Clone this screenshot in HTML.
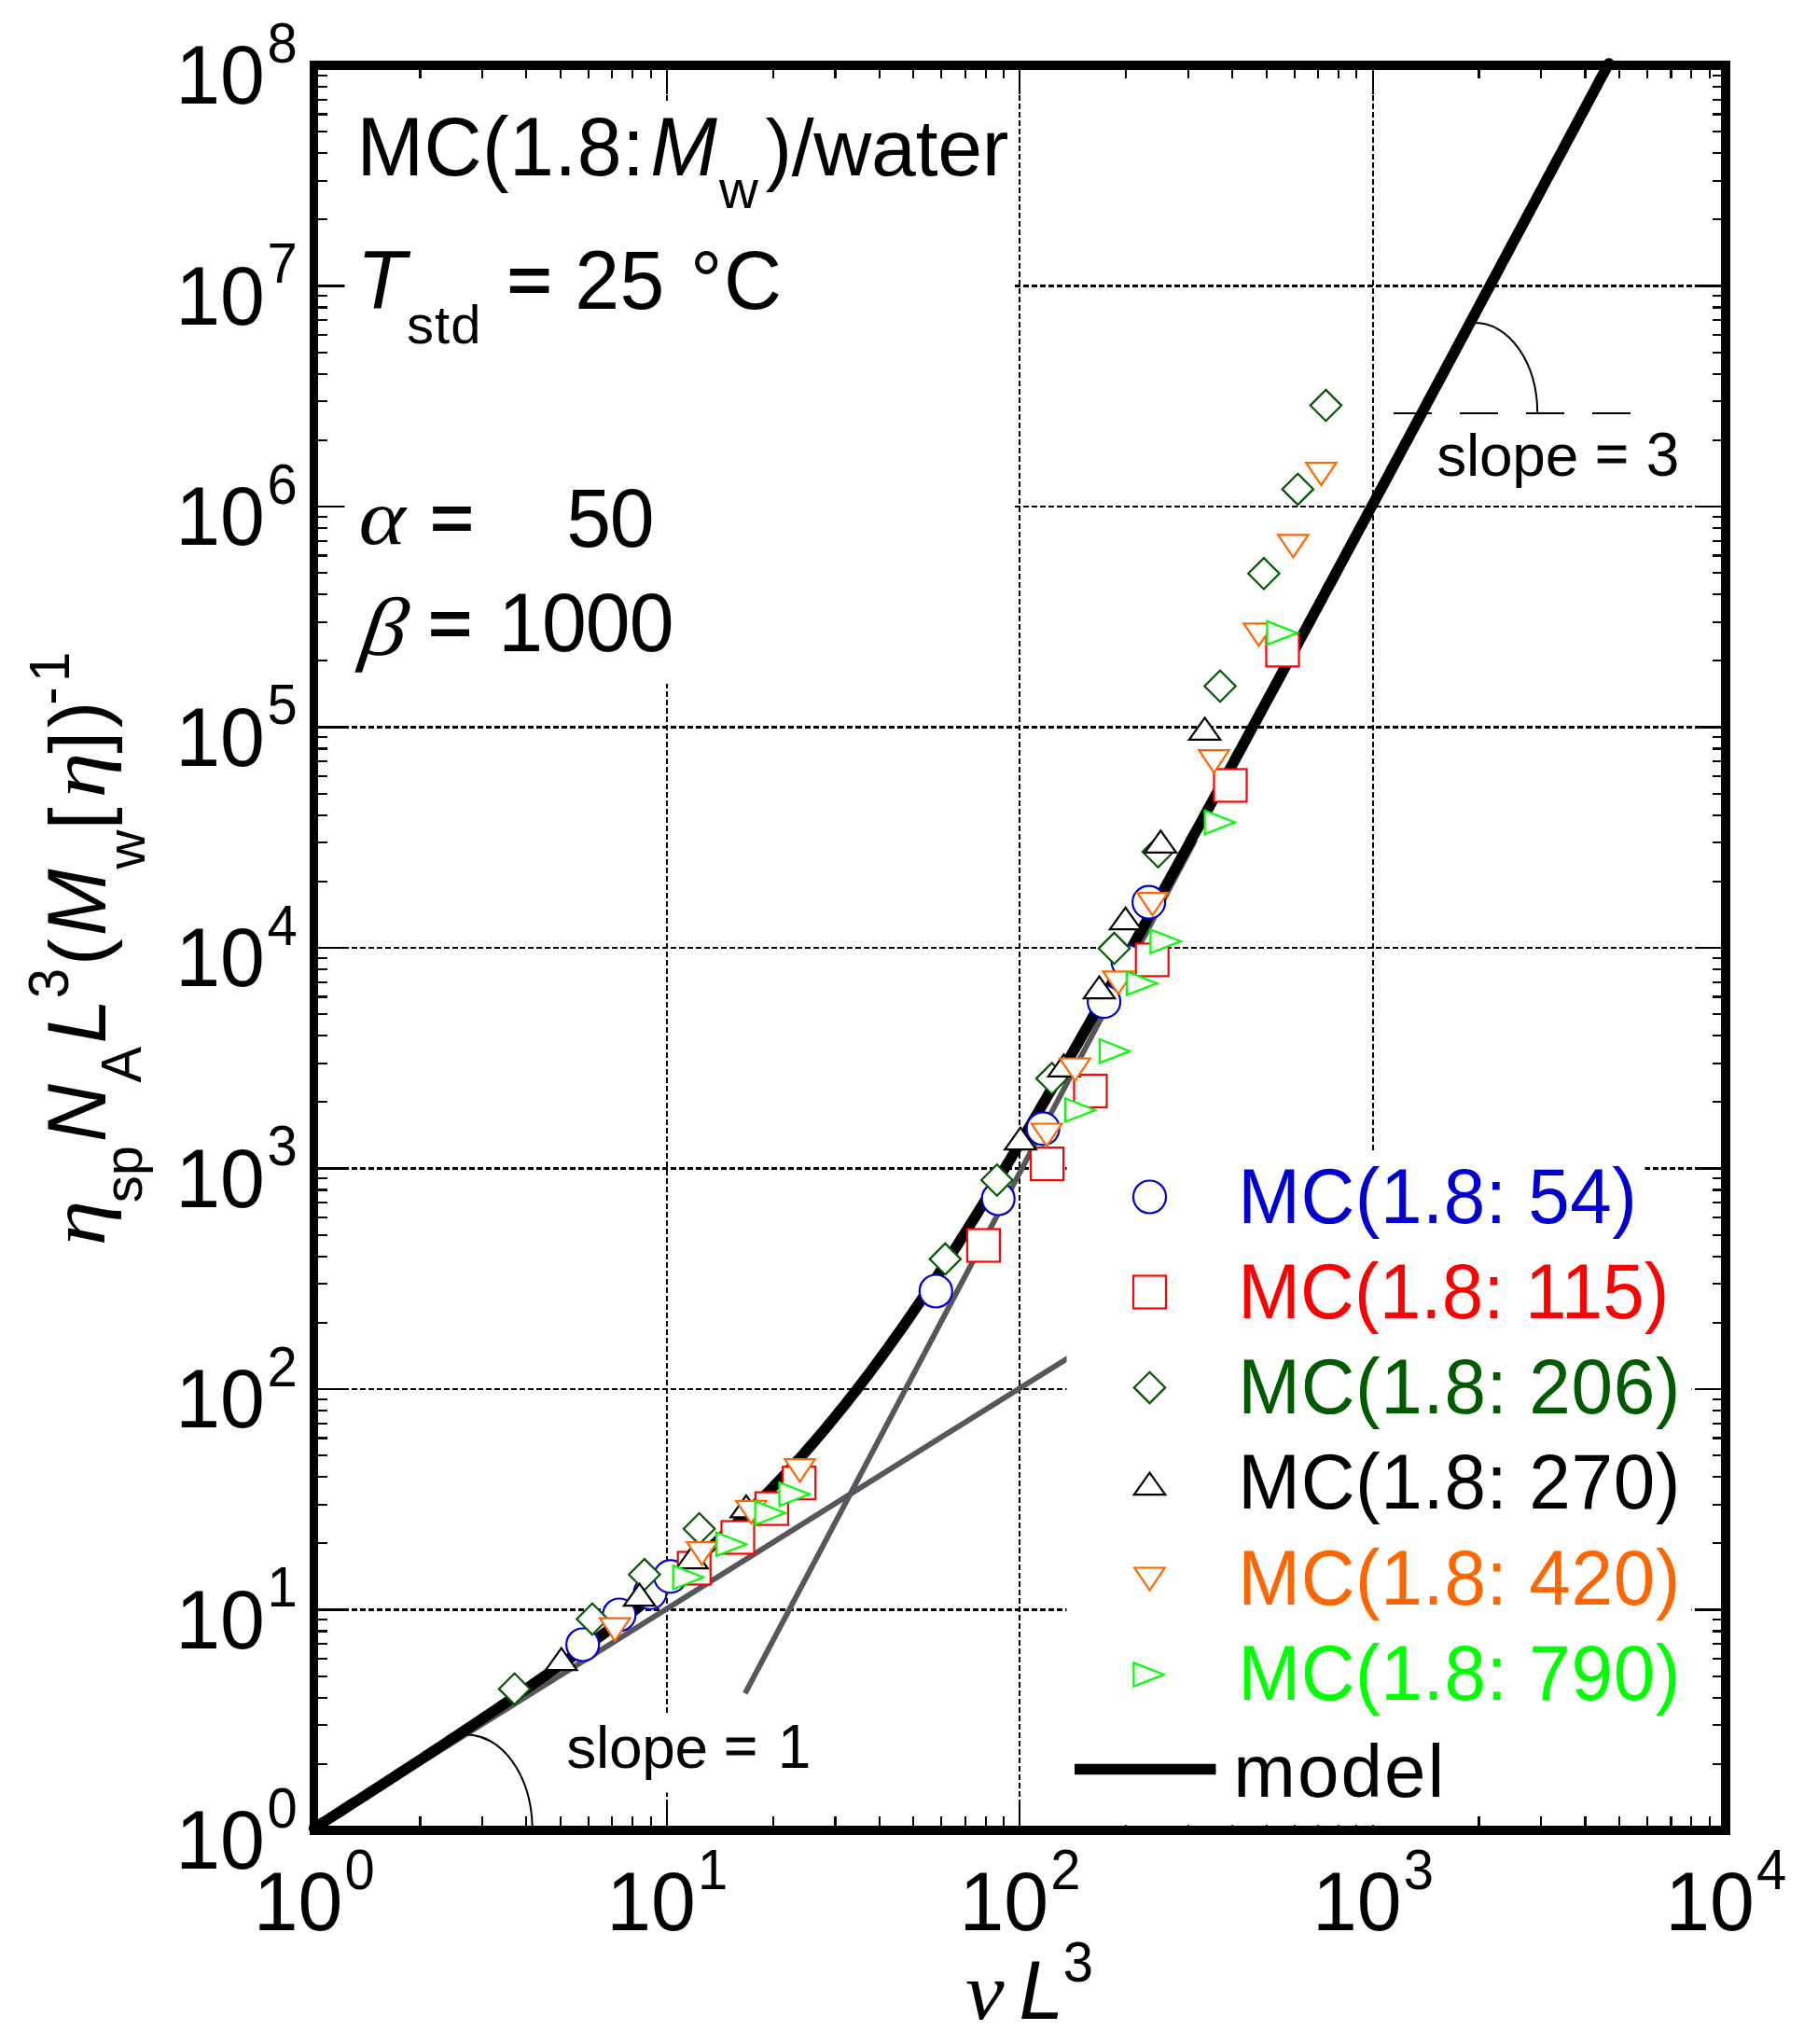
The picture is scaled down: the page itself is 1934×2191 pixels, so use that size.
<!DOCTYPE html>
<html lang="en"><head><meta charset="utf-8"><title>MC(1.8:Mw)/water viscosity plot</title>
<style>html,body{margin:0;padding:0;background:#fff}svg{display:block}text{white-space:pre}.a{font-family:"Liberation Sans",Arial,sans-serif}.ai{font-family:"Liberation Sans",Arial,sans-serif;font-style:italic}.si{font-family:"Liberation Serif","Times New Roman",serif;font-style:italic}</style>
</head><body>
<svg width="1934" height="2191" viewBox="0 0 1934 2191">
<rect x="0" y="0" width="1934" height="2191" fill="#fff"/>
<g stroke="#000" stroke-width="2.2" stroke-dasharray="5.5 3.5" fill="none" shape-rendering="crispEdges">
<line x1="714.9" y1="75" x2="714.9" y2="1957"/>
<line x1="1093.2" y1="75" x2="1093.2" y2="1957"/>
<line x1="1471.6" y1="75" x2="1471.6" y2="1957"/>
<line x1="341" y1="1725.5" x2="1845" y2="1725.5"/>
<line x1="341" y1="1489.0" x2="1845" y2="1489.0"/>
<line x1="341" y1="1252.5" x2="1845" y2="1252.5"/>
<line x1="341" y1="1016.0" x2="1845" y2="1016.0"/>
<line x1="341" y1="779.5" x2="1845" y2="779.5"/>
<line x1="341" y1="543.0" x2="1845" y2="543.0"/>
<line x1="341" y1="306.5" x2="1845" y2="306.5"/>
</g>
<g stroke="#000" stroke-width="2.2" fill="none" shape-rendering="crispEdges">
<line x1="340" y1="1890.8" x2="351.0" y2="1890.8"/>
<line x1="1846" y1="1890.8" x2="1835.8" y2="1890.8"/>
<line x1="340" y1="1849.2" x2="351.0" y2="1849.2"/>
<line x1="1846" y1="1849.2" x2="1835.8" y2="1849.2"/>
<line x1="340" y1="1819.6" x2="351.0" y2="1819.6"/>
<line x1="1846" y1="1819.6" x2="1835.8" y2="1819.6"/>
<line x1="340" y1="1796.7" x2="351.0" y2="1796.7"/>
<line x1="1846" y1="1796.7" x2="1835.8" y2="1796.7"/>
<line x1="340" y1="1778.0" x2="351.0" y2="1778.0"/>
<line x1="1846" y1="1778.0" x2="1835.8" y2="1778.0"/>
<line x1="340" y1="1762.1" x2="351.0" y2="1762.1"/>
<line x1="1846" y1="1762.1" x2="1835.8" y2="1762.1"/>
<line x1="340" y1="1748.4" x2="351.0" y2="1748.4"/>
<line x1="1846" y1="1748.4" x2="1835.8" y2="1748.4"/>
<line x1="340" y1="1736.3" x2="351.0" y2="1736.3"/>
<line x1="1846" y1="1736.3" x2="1835.8" y2="1736.3"/>
<line x1="340" y1="1725.5" x2="369.0" y2="1725.5"/>
<line x1="1846" y1="1725.5" x2="1822.0" y2="1725.5"/>
<line x1="340" y1="1654.3" x2="351.0" y2="1654.3"/>
<line x1="1846" y1="1654.3" x2="1835.8" y2="1654.3"/>
<line x1="340" y1="1612.7" x2="351.0" y2="1612.7"/>
<line x1="1846" y1="1612.7" x2="1835.8" y2="1612.7"/>
<line x1="340" y1="1583.1" x2="351.0" y2="1583.1"/>
<line x1="1846" y1="1583.1" x2="1835.8" y2="1583.1"/>
<line x1="340" y1="1560.2" x2="351.0" y2="1560.2"/>
<line x1="1846" y1="1560.2" x2="1835.8" y2="1560.2"/>
<line x1="340" y1="1541.5" x2="351.0" y2="1541.5"/>
<line x1="1846" y1="1541.5" x2="1835.8" y2="1541.5"/>
<line x1="340" y1="1525.6" x2="351.0" y2="1525.6"/>
<line x1="1846" y1="1525.6" x2="1835.8" y2="1525.6"/>
<line x1="340" y1="1511.9" x2="351.0" y2="1511.9"/>
<line x1="1846" y1="1511.9" x2="1835.8" y2="1511.9"/>
<line x1="340" y1="1499.8" x2="351.0" y2="1499.8"/>
<line x1="1846" y1="1499.8" x2="1835.8" y2="1499.8"/>
<line x1="340" y1="1489.0" x2="369.0" y2="1489.0"/>
<line x1="1846" y1="1489.0" x2="1822.0" y2="1489.0"/>
<line x1="340" y1="1417.8" x2="351.0" y2="1417.8"/>
<line x1="1846" y1="1417.8" x2="1835.8" y2="1417.8"/>
<line x1="340" y1="1376.2" x2="351.0" y2="1376.2"/>
<line x1="1846" y1="1376.2" x2="1835.8" y2="1376.2"/>
<line x1="340" y1="1346.6" x2="351.0" y2="1346.6"/>
<line x1="1846" y1="1346.6" x2="1835.8" y2="1346.6"/>
<line x1="340" y1="1323.7" x2="351.0" y2="1323.7"/>
<line x1="1846" y1="1323.7" x2="1835.8" y2="1323.7"/>
<line x1="340" y1="1305.0" x2="351.0" y2="1305.0"/>
<line x1="1846" y1="1305.0" x2="1835.8" y2="1305.0"/>
<line x1="340" y1="1289.1" x2="351.0" y2="1289.1"/>
<line x1="1846" y1="1289.1" x2="1835.8" y2="1289.1"/>
<line x1="340" y1="1275.4" x2="351.0" y2="1275.4"/>
<line x1="1846" y1="1275.4" x2="1835.8" y2="1275.4"/>
<line x1="340" y1="1263.3" x2="351.0" y2="1263.3"/>
<line x1="1846" y1="1263.3" x2="1835.8" y2="1263.3"/>
<line x1="340" y1="1252.5" x2="369.0" y2="1252.5"/>
<line x1="1846" y1="1252.5" x2="1822.0" y2="1252.5"/>
<line x1="340" y1="1181.3" x2="351.0" y2="1181.3"/>
<line x1="1846" y1="1181.3" x2="1835.8" y2="1181.3"/>
<line x1="340" y1="1139.7" x2="351.0" y2="1139.7"/>
<line x1="1846" y1="1139.7" x2="1835.8" y2="1139.7"/>
<line x1="340" y1="1110.1" x2="351.0" y2="1110.1"/>
<line x1="1846" y1="1110.1" x2="1835.8" y2="1110.1"/>
<line x1="340" y1="1087.2" x2="351.0" y2="1087.2"/>
<line x1="1846" y1="1087.2" x2="1835.8" y2="1087.2"/>
<line x1="340" y1="1068.5" x2="351.0" y2="1068.5"/>
<line x1="1846" y1="1068.5" x2="1835.8" y2="1068.5"/>
<line x1="340" y1="1052.6" x2="351.0" y2="1052.6"/>
<line x1="1846" y1="1052.6" x2="1835.8" y2="1052.6"/>
<line x1="340" y1="1038.9" x2="351.0" y2="1038.9"/>
<line x1="1846" y1="1038.9" x2="1835.8" y2="1038.9"/>
<line x1="340" y1="1026.8" x2="351.0" y2="1026.8"/>
<line x1="1846" y1="1026.8" x2="1835.8" y2="1026.8"/>
<line x1="340" y1="1016.0" x2="369.0" y2="1016.0"/>
<line x1="1846" y1="1016.0" x2="1822.0" y2="1016.0"/>
<line x1="340" y1="944.8" x2="351.0" y2="944.8"/>
<line x1="1846" y1="944.8" x2="1835.8" y2="944.8"/>
<line x1="340" y1="903.2" x2="351.0" y2="903.2"/>
<line x1="1846" y1="903.2" x2="1835.8" y2="903.2"/>
<line x1="340" y1="873.6" x2="351.0" y2="873.6"/>
<line x1="1846" y1="873.6" x2="1835.8" y2="873.6"/>
<line x1="340" y1="850.7" x2="351.0" y2="850.7"/>
<line x1="1846" y1="850.7" x2="1835.8" y2="850.7"/>
<line x1="340" y1="832.0" x2="351.0" y2="832.0"/>
<line x1="1846" y1="832.0" x2="1835.8" y2="832.0"/>
<line x1="340" y1="816.1" x2="351.0" y2="816.1"/>
<line x1="1846" y1="816.1" x2="1835.8" y2="816.1"/>
<line x1="340" y1="802.4" x2="351.0" y2="802.4"/>
<line x1="1846" y1="802.4" x2="1835.8" y2="802.4"/>
<line x1="340" y1="790.3" x2="351.0" y2="790.3"/>
<line x1="1846" y1="790.3" x2="1835.8" y2="790.3"/>
<line x1="340" y1="779.5" x2="369.0" y2="779.5"/>
<line x1="1846" y1="779.5" x2="1822.0" y2="779.5"/>
<line x1="340" y1="708.3" x2="351.0" y2="708.3"/>
<line x1="1846" y1="708.3" x2="1835.8" y2="708.3"/>
<line x1="340" y1="666.7" x2="351.0" y2="666.7"/>
<line x1="1846" y1="666.7" x2="1835.8" y2="666.7"/>
<line x1="340" y1="637.1" x2="351.0" y2="637.1"/>
<line x1="1846" y1="637.1" x2="1835.8" y2="637.1"/>
<line x1="340" y1="614.2" x2="351.0" y2="614.2"/>
<line x1="1846" y1="614.2" x2="1835.8" y2="614.2"/>
<line x1="340" y1="595.5" x2="351.0" y2="595.5"/>
<line x1="1846" y1="595.5" x2="1835.8" y2="595.5"/>
<line x1="340" y1="579.6" x2="351.0" y2="579.6"/>
<line x1="1846" y1="579.6" x2="1835.8" y2="579.6"/>
<line x1="340" y1="565.9" x2="351.0" y2="565.9"/>
<line x1="1846" y1="565.9" x2="1835.8" y2="565.9"/>
<line x1="340" y1="553.8" x2="351.0" y2="553.8"/>
<line x1="1846" y1="553.8" x2="1835.8" y2="553.8"/>
<line x1="340" y1="543.0" x2="369.0" y2="543.0"/>
<line x1="1846" y1="543.0" x2="1822.0" y2="543.0"/>
<line x1="340" y1="471.8" x2="351.0" y2="471.8"/>
<line x1="1846" y1="471.8" x2="1835.8" y2="471.8"/>
<line x1="340" y1="430.2" x2="351.0" y2="430.2"/>
<line x1="1846" y1="430.2" x2="1835.8" y2="430.2"/>
<line x1="340" y1="400.6" x2="351.0" y2="400.6"/>
<line x1="1846" y1="400.6" x2="1835.8" y2="400.6"/>
<line x1="340" y1="377.7" x2="351.0" y2="377.7"/>
<line x1="1846" y1="377.7" x2="1835.8" y2="377.7"/>
<line x1="340" y1="359.0" x2="351.0" y2="359.0"/>
<line x1="1846" y1="359.0" x2="1835.8" y2="359.0"/>
<line x1="340" y1="343.1" x2="351.0" y2="343.1"/>
<line x1="1846" y1="343.1" x2="1835.8" y2="343.1"/>
<line x1="340" y1="329.4" x2="351.0" y2="329.4"/>
<line x1="1846" y1="329.4" x2="1835.8" y2="329.4"/>
<line x1="340" y1="317.3" x2="351.0" y2="317.3"/>
<line x1="1846" y1="317.3" x2="1835.8" y2="317.3"/>
<line x1="340" y1="306.5" x2="369.0" y2="306.5"/>
<line x1="1846" y1="306.5" x2="1822.0" y2="306.5"/>
<line x1="340" y1="235.3" x2="351.0" y2="235.3"/>
<line x1="1846" y1="235.3" x2="1835.8" y2="235.3"/>
<line x1="340" y1="193.7" x2="351.0" y2="193.7"/>
<line x1="1846" y1="193.7" x2="1835.8" y2="193.7"/>
<line x1="340" y1="164.1" x2="351.0" y2="164.1"/>
<line x1="1846" y1="164.1" x2="1835.8" y2="164.1"/>
<line x1="340" y1="141.2" x2="351.0" y2="141.2"/>
<line x1="1846" y1="141.2" x2="1835.8" y2="141.2"/>
<line x1="340" y1="122.5" x2="351.0" y2="122.5"/>
<line x1="1846" y1="122.5" x2="1835.8" y2="122.5"/>
<line x1="340" y1="106.6" x2="351.0" y2="106.6"/>
<line x1="1846" y1="106.6" x2="1835.8" y2="106.6"/>
<line x1="340" y1="92.9" x2="351.0" y2="92.9"/>
<line x1="1846" y1="92.9" x2="1835.8" y2="92.9"/>
<line x1="340" y1="80.8" x2="351.0" y2="80.8"/>
<line x1="1846" y1="80.8" x2="1835.8" y2="80.8"/>
<line x1="450.4" y1="74" x2="450.4" y2="83.8"/>
<line x1="450.4" y1="1958" x2="450.4" y2="1947.0"/>
<line x1="517.0" y1="74" x2="517.0" y2="83.8"/>
<line x1="517.0" y1="1958" x2="517.0" y2="1947.0"/>
<line x1="564.3" y1="74" x2="564.3" y2="83.8"/>
<line x1="564.3" y1="1958" x2="564.3" y2="1947.0"/>
<line x1="601.0" y1="74" x2="601.0" y2="83.8"/>
<line x1="601.0" y1="1958" x2="601.0" y2="1947.0"/>
<line x1="630.9" y1="74" x2="630.9" y2="83.8"/>
<line x1="630.9" y1="1958" x2="630.9" y2="1947.0"/>
<line x1="656.3" y1="74" x2="656.3" y2="83.8"/>
<line x1="656.3" y1="1958" x2="656.3" y2="1947.0"/>
<line x1="678.2" y1="74" x2="678.2" y2="83.8"/>
<line x1="678.2" y1="1958" x2="678.2" y2="1947.0"/>
<line x1="697.6" y1="74" x2="697.6" y2="83.8"/>
<line x1="697.6" y1="1958" x2="697.6" y2="1947.0"/>
<line x1="714.9" y1="74" x2="714.9" y2="100.5"/>
<line x1="714.9" y1="1958" x2="714.9" y2="1930.0"/>
<line x1="828.8" y1="74" x2="828.8" y2="83.8"/>
<line x1="828.8" y1="1958" x2="828.8" y2="1947.0"/>
<line x1="895.4" y1="74" x2="895.4" y2="83.8"/>
<line x1="895.4" y1="1958" x2="895.4" y2="1947.0"/>
<line x1="942.7" y1="74" x2="942.7" y2="83.8"/>
<line x1="942.7" y1="1958" x2="942.7" y2="1947.0"/>
<line x1="979.3" y1="74" x2="979.3" y2="83.8"/>
<line x1="979.3" y1="1958" x2="979.3" y2="1947.0"/>
<line x1="1009.3" y1="74" x2="1009.3" y2="83.8"/>
<line x1="1009.3" y1="1958" x2="1009.3" y2="1947.0"/>
<line x1="1034.6" y1="74" x2="1034.6" y2="83.8"/>
<line x1="1034.6" y1="1958" x2="1034.6" y2="1947.0"/>
<line x1="1056.6" y1="74" x2="1056.6" y2="83.8"/>
<line x1="1056.6" y1="1958" x2="1056.6" y2="1947.0"/>
<line x1="1075.9" y1="74" x2="1075.9" y2="83.8"/>
<line x1="1075.9" y1="1958" x2="1075.9" y2="1947.0"/>
<line x1="1093.2" y1="74" x2="1093.2" y2="100.5"/>
<line x1="1093.2" y1="1958" x2="1093.2" y2="1930.0"/>
<line x1="1207.2" y1="74" x2="1207.2" y2="83.8"/>
<line x1="1207.2" y1="1958" x2="1207.2" y2="1947.0"/>
<line x1="1273.8" y1="74" x2="1273.8" y2="83.8"/>
<line x1="1273.8" y1="1958" x2="1273.8" y2="1947.0"/>
<line x1="1321.1" y1="74" x2="1321.1" y2="83.8"/>
<line x1="1321.1" y1="1958" x2="1321.1" y2="1947.0"/>
<line x1="1357.7" y1="74" x2="1357.7" y2="83.8"/>
<line x1="1357.7" y1="1958" x2="1357.7" y2="1947.0"/>
<line x1="1387.7" y1="74" x2="1387.7" y2="83.8"/>
<line x1="1387.7" y1="1958" x2="1387.7" y2="1947.0"/>
<line x1="1413.0" y1="74" x2="1413.0" y2="83.8"/>
<line x1="1413.0" y1="1958" x2="1413.0" y2="1947.0"/>
<line x1="1435.0" y1="74" x2="1435.0" y2="83.8"/>
<line x1="1435.0" y1="1958" x2="1435.0" y2="1947.0"/>
<line x1="1454.3" y1="74" x2="1454.3" y2="83.8"/>
<line x1="1454.3" y1="1958" x2="1454.3" y2="1947.0"/>
<line x1="1471.6" y1="74" x2="1471.6" y2="100.5"/>
<line x1="1471.6" y1="1958" x2="1471.6" y2="1930.0"/>
<line x1="1585.5" y1="74" x2="1585.5" y2="83.8"/>
<line x1="1585.5" y1="1958" x2="1585.5" y2="1947.0"/>
<line x1="1652.2" y1="74" x2="1652.2" y2="83.8"/>
<line x1="1652.2" y1="1958" x2="1652.2" y2="1947.0"/>
<line x1="1699.4" y1="74" x2="1699.4" y2="83.8"/>
<line x1="1699.4" y1="1958" x2="1699.4" y2="1947.0"/>
<line x1="1736.1" y1="74" x2="1736.1" y2="83.8"/>
<line x1="1736.1" y1="1958" x2="1736.1" y2="1947.0"/>
<line x1="1766.1" y1="74" x2="1766.1" y2="83.8"/>
<line x1="1766.1" y1="1958" x2="1766.1" y2="1947.0"/>
<line x1="1791.4" y1="74" x2="1791.4" y2="83.8"/>
<line x1="1791.4" y1="1958" x2="1791.4" y2="1947.0"/>
<line x1="1813.3" y1="74" x2="1813.3" y2="83.8"/>
<line x1="1813.3" y1="1958" x2="1813.3" y2="1947.0"/>
<line x1="1832.7" y1="74" x2="1832.7" y2="83.8"/>
<line x1="1832.7" y1="1958" x2="1832.7" y2="1947.0"/>
</g>
<g fill="#fff">
<rect x="369.5" y="110" width="716.5" height="623"/>
<rect x="596" y="1837.5" width="275" height="84"/>
</g>
<g fill="none" stroke-linecap="butt">
<line x1="336.5" y1="1961.0" x2="1165.0" y2="1443.2" stroke="#56575a" stroke-width="5.9"/>
<line x1="798.8" y1="1815.2" x2="1281.5" y2="900.0" stroke="#56575a" stroke-width="5.9"/>
<path d="M336.5,1959.9 L340.0,1957.6 L343.4,1955.4 L346.9,1953.2 L350.4,1951.0 L353.9,1948.8 L357.3,1946.5 L360.8,1944.3 L364.3,1942.1 L367.7,1939.9 L371.2,1937.6 L374.7,1935.4 L378.1,1933.2 L381.6,1931.0 L385.1,1928.7 L388.6,1926.5 L392.0,1924.3 L395.5,1922.0 L399.0,1919.8 L402.4,1917.5 L405.9,1915.3 L409.4,1913.1 L412.9,1910.8 L416.3,1908.6 L419.8,1906.3 L423.3,1904.1 L426.7,1901.8 L430.2,1899.5 L433.7,1897.3 L437.1,1895.0 L440.6,1892.8 L444.1,1890.5 L447.6,1888.2 L451.0,1886.0 L454.5,1883.7 L458.0,1881.4 L461.4,1879.2 L464.9,1876.9 L468.4,1874.6 L471.9,1872.3 L475.3,1870.0 L478.8,1867.7 L482.3,1865.4 L485.7,1863.1 L489.2,1860.9 L492.7,1858.5 L496.1,1856.2 L499.6,1853.9 L503.1,1851.6 L506.6,1849.3 L510.0,1847.0 L513.5,1844.7 L517.0,1842.3 L520.4,1840.0 L523.9,1837.7 L527.4,1835.3 L530.9,1833.0 L534.3,1830.7 L537.8,1828.3 L541.3,1826.0 L544.7,1823.6 L548.2,1821.2 L551.7,1818.9 L555.2,1816.5 L558.6,1814.1 L562.1,1811.7 L565.6,1809.3 L569.0,1806.9 L572.5,1804.5 L576.0,1802.1 L579.4,1799.7 L582.9,1797.3 L586.4,1794.9 L589.9,1792.4 L593.3,1790.0 L596.8,1787.5 L600.3,1785.1 L603.7,1782.6 L607.2,1780.2 L610.7,1777.7 L614.2,1775.2 L617.6,1772.7 L621.1,1770.2 L624.6,1767.7 L628.0,1765.2 L631.5,1762.7 L635.0,1760.1 L638.4,1757.6 L641.9,1755.0 L645.4,1752.5 L648.9,1749.9 L652.3,1747.3 L655.8,1744.7 L659.3,1742.1 L662.7,1739.5 L666.2,1736.8 L669.7,1734.2 L673.2,1731.5 L676.6,1728.9 L680.1,1726.2 L683.6,1723.5 L687.0,1720.8 L690.5,1718.1 L694.0,1715.3 L697.4,1712.6 L700.9,1709.8 L704.4,1707.0 L707.9,1704.3 L711.3,1701.4 L714.8,1698.6 L718.3,1695.8 L721.7,1692.9 L725.2,1690.0 L728.7,1687.1 L732.2,1684.2 L735.6,1681.3 L739.1,1678.3 L742.6,1675.4 L746.0,1672.4 L749.5,1669.3 L753.0,1666.3 L756.4,1663.3 L759.9,1660.2 L763.4,1657.1 L766.9,1653.9 L770.3,1650.8 L773.8,1647.6 L777.3,1644.4 L780.7,1641.2 L784.2,1638.0 L787.7,1634.7 L791.2,1631.4 L794.6,1628.1 L798.1,1624.7 L801.6,1621.4 L805.0,1618.0 L808.5,1614.5 L812.0,1611.1 L815.4,1607.6 L818.9,1604.1 L822.4,1600.5 L825.9,1597.0 L829.3,1593.4 L832.8,1589.7 L836.3,1586.1 L839.7,1582.4 L843.2,1578.6 L846.7,1574.9 L850.2,1571.1 L853.6,1567.2 L857.1,1563.4 L860.6,1559.5 L864.0,1555.6 L867.5,1551.6 L871.0,1547.6 L874.4,1543.6 L877.9,1539.5 L881.4,1535.4 L884.9,1531.3 L888.3,1527.1 L891.8,1522.9 L895.3,1518.7 L898.7,1514.4 L902.2,1510.1 L905.7,1505.8 L909.2,1501.4 L912.6,1497.0 L916.1,1492.6 L919.6,1488.1 L923.0,1483.6 L926.5,1479.0 L930.0,1474.5 L933.5,1469.9 L936.9,1465.2 L940.4,1460.5 L943.9,1455.8 L947.3,1451.1 L950.8,1446.3 L954.3,1441.5 L957.7,1436.6 L961.2,1431.7 L964.7,1426.8 L968.2,1421.9 L971.6,1416.9 L975.1,1411.9 L978.6,1406.8 L982.0,1401.8 L985.5,1396.7 L989.0,1391.5 L992.5,1386.4 L995.9,1381.2 L999.4,1376.0 L1002.9,1370.7 L1006.3,1365.5 L1009.8,1360.2 L1013.3,1354.8 L1016.7,1349.5 L1020.2,1344.1 L1023.7,1338.7 L1027.2,1333.3 L1030.6,1327.8 L1034.1,1322.3 L1037.6,1316.8 L1041.0,1311.3 L1044.5,1305.7 L1048.0,1300.1 L1051.5,1294.6 L1054.9,1288.9 L1058.4,1283.3 L1061.9,1277.6 L1065.3,1271.9 L1068.8,1266.2 L1072.3,1260.5 L1075.7,1254.8 L1079.2,1249.0 L1082.7,1243.2 L1086.2,1237.4 L1089.6,1231.6 L1093.1,1225.8 L1096.6,1220.0 L1100.0,1214.1 L1103.5,1208.2 L1107.0,1202.3 L1110.5,1196.4 L1113.9,1190.5 L1117.4,1184.5 L1120.9,1178.6 L1124.3,1172.6 L1127.8,1166.6 L1131.3,1160.6 L1134.7,1154.6 L1138.2,1148.6 L1141.7,1142.6 L1145.2,1136.5 L1148.6,1130.5 L1152.1,1124.4 L1155.6,1118.3 L1159.0,1112.2 L1162.5,1106.1 L1166.0,1100.0 L1169.5,1093.9 L1172.9,1087.8 L1176.4,1081.6 L1179.9,1075.5 L1183.3,1069.3 L1186.8,1063.1 L1190.3,1057.0 L1193.7,1050.8 L1197.2,1044.6 L1200.7,1038.4 L1204.2,1032.2 L1207.6,1026.0 L1211.1,1019.7 L1214.6,1013.5 L1218.0,1007.3 L1221.5,1001.0 L1225.0,994.8 L1228.5,988.5 L1231.9,982.3 L1235.4,976.0 L1238.9,969.7 L1242.3,963.4 L1245.8,957.1 L1249.3,950.9 L1252.8,944.6 L1256.2,938.3 L1259.7,931.9 L1263.2,925.6 L1266.6,919.3 L1270.1,913.0 L1273.6,906.7 L1277.0,900.3 L1280.5,894.0 L1284.0,887.7 L1287.5,881.3 L1290.9,875.0 L1294.4,868.6 L1297.9,862.3 L1301.3,855.9 L1304.8,849.5 L1308.3,843.2 L1311.8,836.8 L1315.2,830.4 L1318.7,824.1 L1322.2,817.7 L1325.6,811.3 L1329.1,804.9 L1332.6,798.5 L1336.0,792.1 L1339.5,785.7 L1343.0,779.3 L1346.5,772.9 L1349.9,766.5 L1353.4,760.1 L1356.9,753.7 L1360.3,747.3 L1363.8,740.9 L1367.3,734.5 L1370.8,728.1 L1374.2,721.7 L1377.7,715.2 L1381.2,708.8 L1384.6,702.4 L1388.1,696.0 L1391.6,689.5 L1395.0,683.1 L1398.5,676.7 L1402.0,670.3 L1405.5,663.8 L1408.9,657.4 L1412.4,650.9 L1415.9,644.5 L1419.3,638.1 L1422.8,631.6 L1426.3,625.2 L1429.8,618.7 L1433.2,612.3 L1436.7,605.8 L1440.2,599.4 L1443.6,592.9 L1447.1,586.5 L1450.6,580.0 L1454.0,573.6 L1457.5,567.1 L1461.0,560.7 L1464.5,554.2 L1467.9,547.7 L1471.4,541.3 L1474.9,534.8 L1478.3,528.4 L1481.8,521.9 L1485.3,515.4 L1488.8,509.0 L1492.2,502.5 L1495.7,496.0 L1499.2,489.6 L1502.6,483.1 L1506.1,476.6 L1509.6,470.2 L1513.0,463.7 L1516.5,457.2 L1520.0,450.7 L1523.5,444.3 L1526.9,437.8 L1530.4,431.3 L1533.9,424.8 L1537.3,418.4 L1540.8,411.9 L1544.3,405.4 L1547.8,398.9 L1551.2,392.4 L1554.7,386.0 L1558.2,379.5 L1561.6,373.0 L1565.1,366.5 L1568.6,360.0 L1572.0,353.6 L1575.5,347.1 L1579.0,340.6 L1582.5,334.1 L1585.9,327.6 L1589.4,321.1 L1592.9,314.6 L1596.3,308.2 L1599.8,301.7 L1603.3,295.2 L1606.8,288.7 L1610.2,282.2 L1613.7,275.7 L1617.2,269.2 L1620.6,262.7 L1624.1,256.2 L1627.6,249.8 L1631.1,243.3 L1634.5,236.8 L1638.0,230.3 L1641.5,223.8 L1644.9,217.3 L1648.4,210.8 L1651.9,204.3 L1655.3,197.8 L1658.8,191.3 L1662.3,184.8 L1665.8,178.3 L1669.2,171.8 L1672.7,165.4 L1676.2,158.9 L1679.6,152.4 L1683.1,145.9 L1686.6,139.4 L1690.1,132.9 L1693.5,126.4 L1697.0,119.9 L1700.5,113.4 L1703.9,106.9 L1707.4,100.4 L1710.9,93.9 L1714.3,87.4 L1717.8,80.9 L1721.3,74.4 L1724.8,67.9" stroke="#000" stroke-width="11.5" stroke-linecap="round"/>
</g>
<g fill="#fff">
<rect x="1143.5" y="1235" width="620" height="70"/>
<rect x="1143.5" y="1300" width="670" height="560"/>
<rect x="1143.5" y="1855" width="427" height="101.2"/>
</g>
<g fill="#fff" stroke-width="2.2" stroke-linejoin="miter" stroke-miterlimit="10">
<circle cx="624.7" cy="1763.0" r="17.5" stroke="#0000d0"/>
<circle cx="663.8" cy="1731.0" r="17.5" stroke="#0000d0"/>
<circle cx="697.0" cy="1707.3" r="17.5" stroke="#0000d0"/>
<circle cx="718.7" cy="1689.8" r="17.5" stroke="#0000d0"/>
<circle cx="1003.3" cy="1384.0" r="17.5" stroke="#0000d0"/>
<circle cx="1070.2" cy="1285.0" r="17.5" stroke="#0000d0"/>
<circle cx="1118.2" cy="1209.8" r="17.5" stroke="#0000d0"/>
<circle cx="1183.6" cy="1073.7" r="17.5" stroke="#0000d0"/>
<circle cx="1209.1" cy="1030.7" r="17.5" stroke="#0000d0"/>
<circle cx="1231.6" cy="967.1" r="17.5" stroke="#0000d0"/>
<rect x="726.7" y="1663.5" width="35.0" height="35.0" stroke="#ff0000"/>
<rect x="773.5" y="1630.5" width="35.0" height="35.0" stroke="#ff0000"/>
<rect x="809.9" y="1599.6" width="35.0" height="35.0" stroke="#ff0000"/>
<rect x="839.2" y="1572.2" width="35.0" height="35.0" stroke="#ff0000"/>
<rect x="1036.9" y="1317.5" width="35.0" height="35.0" stroke="#ff0000"/>
<rect x="1105.1" y="1230.1" width="35.0" height="35.0" stroke="#ff0000"/>
<rect x="1151.5" y="1152.0" width="35.0" height="35.0" stroke="#ff0000"/>
<rect x="1217.7" y="1011.4" width="35.0" height="35.0" stroke="#ff0000"/>
<rect x="1301.5" y="824.4" width="35.0" height="35.0" stroke="#ff0000"/>
<rect x="1357.5" y="679.4" width="35.0" height="35.0" stroke="#ff0000"/>
<polygon points="551.6,1793.7 568.3,1810.4 551.6,1827.1 534.9,1810.4" stroke="#005a00"/>
<polygon points="635.0,1718.8 651.7,1735.5 635.0,1752.2 618.3,1735.5" stroke="#005a00"/>
<polygon points="690.9,1671.1 707.6,1687.8 690.9,1704.5 674.2,1687.8" stroke="#005a00"/>
<polygon points="749.6,1622.0 766.3,1638.7 749.6,1655.4 732.9,1638.7" stroke="#005a00"/>
<polygon points="1013.3,1332.9 1030.0,1349.6 1013.3,1366.3 996.6,1349.6" stroke="#005a00"/>
<polygon points="1068.8,1248.3 1085.5,1265.0 1068.8,1281.7 1052.1,1265.0" stroke="#005a00"/>
<polygon points="1127.6,1139.4 1144.3,1156.1 1127.6,1172.8 1110.9,1156.1" stroke="#005a00"/>
<polygon points="1194.5,999.9 1211.2,1016.6 1194.5,1033.3 1177.8,1016.6" stroke="#005a00"/>
<polygon points="1241.5,896.4 1258.2,913.1 1241.5,929.8 1224.8,913.1" stroke="#005a00"/>
<polygon points="1308.0,718.8 1324.7,735.5 1308.0,752.2 1291.3,735.5" stroke="#005a00"/>
<polygon points="1354.9,598.1 1371.6,614.8 1354.9,631.5 1338.2,614.8" stroke="#005a00"/>
<polygon points="1391.3,507.7 1408.0,524.4 1391.3,541.1 1374.6,524.4" stroke="#005a00"/>
<polygon points="1421.4,417.9 1438.1,434.6 1421.4,451.3 1404.7,434.6" stroke="#005a00"/>
<polygon points="601.8,1766.7 618.5,1790.1 585.1,1790.1" stroke="#000000"/>
<polygon points="685.6,1697.7 702.3,1721.1 668.9,1721.1" stroke="#000000"/>
<polygon points="742.0,1657.7 758.7,1681.1 725.3,1681.1" stroke="#000000"/>
<polygon points="800.0,1603.0 816.7,1626.4 783.3,1626.4" stroke="#000000"/>
<polygon points="1094.0,1208.7 1110.7,1232.1 1077.3,1232.1" stroke="#000000"/>
<polygon points="1140.5,1130.4 1157.2,1153.8 1123.8,1153.8" stroke="#000000"/>
<polygon points="1178.5,1046.7 1195.2,1070.1 1161.8,1070.1" stroke="#000000"/>
<polygon points="1206.6,972.8 1223.3,996.2 1189.9,996.2" stroke="#000000"/>
<polygon points="1244.3,890.4 1261.0,913.8 1227.6,913.8" stroke="#000000"/>
<polygon points="1291.6,769.4 1308.3,792.8 1274.9,792.8" stroke="#000000"/>
<polygon points="659.2,1758.8 675.4,1734.7 643.0,1734.7" stroke="#ff6600"/>
<polygon points="752.6,1677.2 768.8,1653.1 736.4,1653.1" stroke="#ff6600"/>
<polygon points="805.4,1633.0 821.6,1608.9 789.2,1608.9" stroke="#ff6600"/>
<polygon points="857.5,1588.3 873.7,1564.2 841.3,1564.2" stroke="#ff6600"/>
<polygon points="1122.2,1228.6 1138.4,1204.5 1106.0,1204.5" stroke="#ff6600"/>
<polygon points="1152.5,1158.6 1168.7,1134.5 1136.3,1134.5" stroke="#ff6600"/>
<polygon points="1198.9,1065.5 1215.1,1041.4 1182.7,1041.4" stroke="#ff6600"/>
<polygon points="1235.6,981.2 1251.8,957.1 1219.4,957.1" stroke="#ff6600"/>
<polygon points="1301.5,828.3 1317.7,804.2 1285.3,804.2" stroke="#ff6600"/>
<polygon points="1349.5,692.4 1365.7,668.3 1333.3,668.3" stroke="#ff6600"/>
<polygon points="1386.4,597.4 1402.6,573.3 1370.2,573.3" stroke="#ff6600"/>
<polygon points="1416.4,520.1 1432.6,496.0 1400.2,496.0" stroke="#ff6600"/>
<polygon points="754.0,1690.8 721.7,1678.2 721.7,1703.4" stroke="#00ff00"/>
<polygon points="800.2,1655.2 767.9,1642.6 767.9,1667.8" stroke="#00ff00"/>
<polygon points="841.9,1621.8 809.6,1609.2 809.6,1634.4" stroke="#00ff00"/>
<polygon points="867.8,1601.6 835.5,1589.0 835.5,1614.2" stroke="#00ff00"/>
<polygon points="1174.2,1189.9 1141.9,1177.3 1141.9,1202.5" stroke="#00ff00"/>
<polygon points="1211.2,1126.7 1178.9,1114.1 1178.9,1139.3" stroke="#00ff00"/>
<polygon points="1240.2,1054.0 1207.9,1041.4 1207.9,1066.6" stroke="#00ff00"/>
<polygon points="1265.7,1009.0 1233.4,996.4 1233.4,1021.6" stroke="#00ff00"/>
<polygon points="1323.9,881.5 1291.6,868.9 1291.6,894.1" stroke="#00ff00"/>
<polygon points="1390.7,678.5 1358.4,665.9 1358.4,691.1" stroke="#00ff00"/>
<circle cx="1232.5" cy="1283.0" r="17.5" stroke="#0000d0"/>
<rect x="1215.0" y="1367.5" width="35.0" height="35.0" stroke="#ff0000"/>
<polygon points="1232.5,1470.7 1249.2,1487.4 1232.5,1504.1 1215.8,1487.4" stroke="#005a00"/>
<polygon points="1232.5,1578.7 1249.2,1602.1 1215.8,1602.1" stroke="#000000"/>
<polygon points="1232.5,1704.6 1248.7,1680.5 1216.3,1680.5" stroke="#ff6600"/>
<polygon points="1247.7,1795.0 1215.4,1782.4 1215.4,1807.6" stroke="#00ff00"/>
</g>
<line x1="1152" y1="1896.5" x2="1303.5" y2="1896.5" stroke="#000" stroke-width="11.5"/>
<g fill="none" stroke="#000" stroke-width="2">
<path d="M1581.5,346 A66.7,97 0 0 1 1648.2,443"/>
<path d="M500.7,1859.6 A70,102 0 0 1 570.7,1957"/>
<line x1="1494" y1="443" x2="1749" y2="443" stroke-dasharray="41 30.1" shape-rendering="crispEdges"/>
</g>
<g fill="#000" shape-rendering="crispEdges">
<rect x="332" y="65" width="9" height="1901.6"/>
<rect x="1845" y="65" width="9.8" height="1901.6"/>
<rect x="332" y="65" width="1522.8" height="10"/>
<rect x="332" y="1957" width="1522.8" height="9.6"/>
</g>
<text transform="translate(188.30,2003.00) scale(1.0000,1.0400)" class="a" font-size="86px" fill="#000">10</text>
<text transform="translate(286.50,1958.50) scale(1.0000,1.0400)" class="a" font-size="58px" fill="#000">0</text>
<text transform="translate(188.30,1766.50) scale(1.0000,1.0400)" class="a" font-size="86px" fill="#000">10</text>
<text transform="translate(286.50,1722.00) scale(1.0000,1.0400)" class="a" font-size="58px" fill="#000">1</text>
<text transform="translate(188.30,1530.00) scale(1.0000,1.0400)" class="a" font-size="86px" fill="#000">10</text>
<text transform="translate(286.50,1485.50) scale(1.0000,1.0400)" class="a" font-size="58px" fill="#000">2</text>
<text transform="translate(188.30,1293.50) scale(1.0000,1.0400)" class="a" font-size="86px" fill="#000">10</text>
<text transform="translate(286.50,1249.00) scale(1.0000,1.0400)" class="a" font-size="58px" fill="#000">3</text>
<text transform="translate(188.30,1057.00) scale(1.0000,1.0400)" class="a" font-size="86px" fill="#000">10</text>
<text transform="translate(286.50,1012.50) scale(1.0000,1.0400)" class="a" font-size="58px" fill="#000">4</text>
<text transform="translate(188.30,820.50) scale(1.0000,1.0400)" class="a" font-size="86px" fill="#000">10</text>
<text transform="translate(286.50,776.00) scale(1.0000,1.0400)" class="a" font-size="58px" fill="#000">5</text>
<text transform="translate(188.30,584.00) scale(1.0000,1.0400)" class="a" font-size="86px" fill="#000">10</text>
<text transform="translate(286.50,539.50) scale(1.0000,1.0400)" class="a" font-size="58px" fill="#000">6</text>
<text transform="translate(188.30,347.50) scale(1.0000,1.0400)" class="a" font-size="86px" fill="#000">10</text>
<text transform="translate(286.50,303.00) scale(1.0000,1.0400)" class="a" font-size="58px" fill="#000">7</text>
<text transform="translate(188.30,111.00) scale(1.0000,1.0400)" class="a" font-size="86px" fill="#000">10</text>
<text transform="translate(286.50,66.50) scale(1.0000,1.0400)" class="a" font-size="58px" fill="#000">8</text>
<text transform="translate(271.80,2069.20) scale(1.0000,1.0400)" class="a" font-size="86px" fill="#000">10</text>
<text transform="translate(369.60,2025.20) scale(1.0000,1.0400)" class="a" font-size="58px" fill="#000">0</text>
<text transform="translate(650.17,2069.20) scale(1.0000,1.0400)" class="a" font-size="86px" fill="#000">10</text>
<text transform="translate(747.98,2025.20) scale(1.0000,1.0400)" class="a" font-size="58px" fill="#000">1</text>
<text transform="translate(1028.55,2069.20) scale(1.0000,1.0400)" class="a" font-size="86px" fill="#000">10</text>
<text transform="translate(1126.35,2025.20) scale(1.0000,1.0400)" class="a" font-size="58px" fill="#000">2</text>
<text transform="translate(1406.92,2069.20) scale(1.0000,1.0400)" class="a" font-size="86px" fill="#000">10</text>
<text transform="translate(1504.72,2025.20) scale(1.0000,1.0400)" class="a" font-size="58px" fill="#000">3</text>
<text transform="translate(1785.30,2069.20) scale(1.0000,1.0400)" class="a" font-size="86px" fill="#000">10</text>
<text transform="translate(1883.10,2025.20) scale(1.0000,1.0400)" class="a" font-size="58px" fill="#000">4</text>
<text transform="translate(1540.22,509.50) scale(1.0000,0.9850)" class="a" font-size="64px" style="letter-spacing:-0.219px;" fill="#000">slope</text>
<text transform="translate(1710.32,505.28) scale(0.9520,0.8650)" stroke="#000" stroke-width="0.997472" class="a" font-size="64px" fill="#000">=</text>
<text transform="translate(1764.66,509.50) scale(1.0000,1.0400)" class="a" font-size="64px" fill="#000">3</text>
<text transform="translate(607.32,1894.70) scale(1.0000,0.9850)" class="a" font-size="64px" style="letter-spacing:-0.294px;" fill="#000">slope</text>
<text transform="translate(776.31,1890.48) scale(0.9553,0.8650)" stroke="#000" stroke-width="0.997472" class="a" font-size="64px" fill="#000">=</text>
<text transform="translate(833.83,1894.70) scale(1.0000,1.0400)" class="a" font-size="64px" fill="#000">1</text>
<text transform="translate(382.45,187.60) scale(1.0000,1.0400)" class="a" font-size="86px" style="letter-spacing:0.430px;" fill="#000">MC(1.8:</text>
<text transform="translate(697.15,187.60) scale(1.0000,1.0400)" class="ai" font-size="86px" fill="#000">M</text>
<text transform="translate(770.88,223.40) scale(1.0000,0.9850)" class="a" font-size="58px" fill="#000">w</text>
<text transform="translate(820.40,187.60) scale(1.0000,0.9850)" class="a" font-size="86px" style="letter-spacing:-0.300px;" fill="#000">)/water</text>
<text transform="translate(382.67,330.60) scale(1.0000,1.0400)" class="ai" font-size="86px" fill="#000">T</text>
<text transform="translate(435.99,368.30) scale(1.0000,0.9850)" class="a" font-size="58px" style="letter-spacing:1.141px;" fill="#000">std</text>
<text transform="translate(543.90,324.92) scale(0.9425,0.8650)" stroke="#000" stroke-width="2.3216" class="a" font-size="86px" fill="#000">=</text>
<text transform="translate(616.17,330.60) scale(1.0000,1.0400)" class="a" font-size="86px" style="letter-spacing:0.578px;" fill="#000">25</text>
<text transform="translate(740.08,330.60) scale(1.0000,1.0400)" class="a" font-size="86px" style="letter-spacing:1.500px;" fill="#000">°C</text>
<text transform="translate(384.44,583.40) scale(1.1170,0.9800)" class="si" font-size="86px" fill="#000">α</text>
<text transform="translate(461.61,580.32) scale(0.9161,0.8650)" stroke="#000" stroke-width="2.5216" class="a" font-size="86px" fill="#000">=</text>
<text transform="translate(607.16,586.00) scale(1.0000,1.0400)" class="a" font-size="86px" style="letter-spacing:-1.255px;" fill="#000">50</text>
<text transform="translate(384.55,701.80) skewX(-8) scale(1.1200,1.0270)" class="si" font-size="86px" fill="#000">β</text>
<text transform="translate(459.39,692.72) scale(0.9209,0.8650)" stroke="#000" stroke-width="2.5216" class="a" font-size="86px" fill="#000">=</text>
<text transform="translate(534.15,698.40) scale(1.0000,1.0400)" class="a" font-size="86px" style="letter-spacing:-0.969px;" fill="#000">1000</text>
<text transform="translate(1327.34,1311.00) scale(1.0000,1.0400)" class="a" font-size="80px" style="letter-spacing:0.528px;" fill="#0000d0">MC(1.8: 54)</text>
<text transform="translate(1327.34,1412.80) scale(1.0000,1.0400)" class="a" font-size="80px" style="letter-spacing:0.117px;" fill="#ff0000">MC(1.8: 115)</text>
<text transform="translate(1327.34,1515.30) scale(1.0000,1.0400)" class="a" font-size="80px" style="letter-spacing:0.662px;" fill="#005a00">MC(1.8: 206)</text>
<text transform="translate(1327.34,1617.00) scale(1.0000,1.0400)" class="a" font-size="80px" style="letter-spacing:0.662px;" fill="#000000">MC(1.8: 270)</text>
<text transform="translate(1327.34,1719.70) scale(1.0000,1.0400)" class="a" font-size="80px" style="letter-spacing:0.662px;" fill="#ff6600">MC(1.8: 420)</text>
<text transform="translate(1327.34,1821.90) scale(1.0000,1.0400)" class="a" font-size="80px" style="letter-spacing:0.662px;" fill="#00ff00">MC(1.8: 790)</text>
<text transform="translate(1322.29,1925.60) scale(1.0000,0.9850)" class="a" font-size="80px" style="letter-spacing:2.043px;" fill="#000">model</text>
<text transform="translate(1035.12,2164.10) scale(1.0900,1.0120)" class="si" font-size="86px" fill="#000">ν</text>
<text transform="translate(1092.55,2163.50) scale(1.0000,1.0400)" class="ai" font-size="86px" fill="#000">L</text>
<text transform="translate(1139.69,2124.30) scale(1.0000,1.0400)" class="a" font-size="58px" fill="#000">3</text>
<g transform="translate(113.3,0) rotate(-90)">
<text transform="translate(-1335.62,-1.20) scale(1.1470,0.9860)" class="si" font-size="86px" fill="#000">η</text>
<text transform="translate(-1289.21,38.50) scale(1.0000,0.9850)" class="a" font-size="58px" fill="#000">sp</text>
<text transform="translate(-1224.15,0.00) scale(1.0000,1.0400)" class="ai" font-size="86px" fill="#000">N</text>
<text transform="translate(-1160.61,37.30) scale(1.0000,1.0400)" class="a" font-size="58px" fill="#000">A</text>
<text transform="translate(-1118.55,0.00) scale(1.0000,1.0400)" class="ai" font-size="86px" fill="#000">L</text>
<text transform="translate(-1070.31,-40.00) scale(1.0000,1.0400)" class="a" font-size="58px" fill="#000">3</text>
<text x="-1035.03" y="0.00" class="a" font-size="86px" fill="#000">(</text>
<text transform="translate(-1003.25,0.00) scale(1.0000,1.0400)" class="ai" font-size="86px" fill="#000">M</text>
<text transform="translate(-931.62,42.00) scale(1.0000,0.9850)" class="a" font-size="58px" fill="#000">w</text>
<text x="-889.33" y="0.00" class="a" font-size="86px" fill="#000">[</text>
<text transform="translate(-855.42,-1.20) scale(1.1470,0.9860)" class="si" font-size="86px" fill="#000">η</text>
<text x="-807.87" y="0.00" class="a" font-size="86px" fill="#000">]</text>
<text x="-780.30" y="0.00" class="a" font-size="86px" fill="#000">)</text>
<text transform="translate(-755.78,-39.50) scale(1.0000,1.0400)" class="a" font-size="58px" fill="#000">-</text>
<text transform="translate(-731.12,-39.50) scale(1.0000,1.0400)" class="a" font-size="58px" fill="#000">1</text>
</g>
</svg>
</body></html>
